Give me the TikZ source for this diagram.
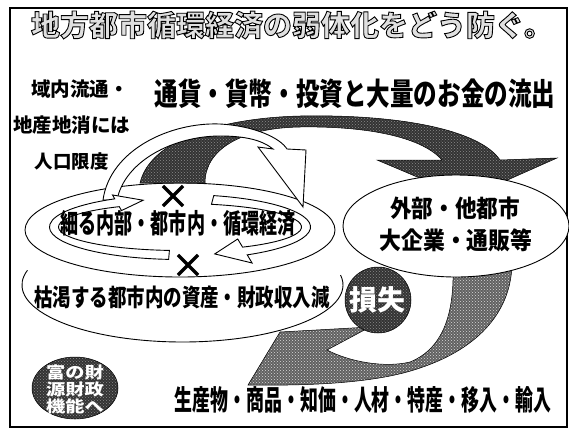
\documentclass[tikz,border=0pt]{standalone}
\usepackage{fontspec}
\newfontfamily\jp{Noto Sans CJK JP}
\usetikzlibrary{shapes.geometric,shapes.misc,patterns}
\tikzset{
  frameline/.style={draw=black,line width=1.2pt},
  outline/.style={draw=black,line width=0.9pt},
  darkfill/.style={preaction={fill=black!80},pattern=crosshatch dots,pattern color=black!45,draw=black,line width=0.5pt},
  greyfill/.style={preaction={fill=black!62},pattern=crosshatch dots,pattern color=black!15,draw=black,line width=0.5pt},
  whiteband/.style={fill=white,draw=black,line width=0.9pt},
  jtext/.style={inner sep=0pt,text=black},
  xmark/.style={cross out,draw=black,line width=3.2pt,minimum size=17pt,inner sep=0pt},
}
\newcommand\hollowtext[1]{\special{pdf:literal direct 2 Tr 0.9 w 0 G}#1\special{pdf:literal direct 0 Tr}}
\begin{document}
\begin{tikzpicture}[x=1pt,y=-1pt]
\useasboundingbox (0,0) rectangle (569,429);
\fill[white] (0,0) rectangle (569,429);
% frame
\draw[frameline] (10,8) rectangle (567,427);

% outer ellipse around the ring
\node[ellipse,outline,minimum width=310pt,minimum height=94pt,inner sep=0pt] (outerring) at (180,230) {};
% lower ellipse (partly hidden)
\draw[outline] (182.5,285) ++(195:160.5 and 57) arc[start angle=195,end angle=-10,x radius=160.5,y radius=57];

% dark upper arc arrow
\path[darkfill] (140,183) .. controls (150,140) and (220,118) .. (300,116)
  .. controls (400,114) and (480,130) .. (500,160) -- (557,158) -- (467,198) -- (377,160) -- (442,160)
  .. controls (420,135) and (360,126) .. (300,127)
  .. controls (240,128) and (205,150) .. (205,183) -- cycle;

% white arc arrow
\filldraw[whiteband] (103,200) .. controls (110,150) and (170,122) .. (220,124)
  .. controls (255,126) and (280,138) .. (287,149) -- (306,150) -- (303,207) -- (258,147) -- (273,149)
  .. controls (262,140) and (245,136) .. (220,136)
  .. controls (175,136) and (125,160) .. (117,200) -- cycle;

% ring of two circular arrows
\begin{scope}[shift={(180,227)}]
 \filldraw[whiteband] (95:130.5 and 32.5) arc[start angle=95,end angle=240,x radius=130.5,y radius=32.5]
   -- (240:135 and 37) -- (253:126 and 28) -- (240:117 and 19) -- (240:121.5 and 23.5)
   arc[start angle=240,end angle=95,x radius=121.5,y radius=23.5] -- cycle;
 \filldraw[whiteband] (285:130.5 and 32.5) arc[start angle=285,end angle=419,x radius=130.5,y radius=32.5]
   -- (419:140 and 42) -- (434:126 and 28) -- (419:112 and 14) -- (419:121.5 and 23.5)
   arc[start angle=419,end angle=285,x radius=121.5,y radius=23.5] -- cycle;
\end{scope}
\node[xmark] (x1) at (173,196) {};
\node[xmark] (x2) at (188,265) {};

% lower grey arrow
\path[greyfill] (453,262) -- (453,280) .. controls (452,320) and (440,350) .. (410,362)
  .. controls (385,368) and (350,362) .. (327,350) -- (370,327) -- (280,332) -- (248,385)
  .. controls (320,386) and (380,382) .. (420,368)
  .. controls (480,348) and (512,310) .. (512,262) -- cycle;

% external ellipse
\node[ellipse,whiteband,minimum width=226pt,minimum height=102pt,inner sep=0pt] (ext) at (456,226) {};

% loss circle
\node[circle,darkfill,minimum size=66pt,inner sep=0pt] (loss) at (378,300) {};
% fund oval
\node[ellipse,darkfill,minimum width=86pt,minimum height=62pt,inner sep=0pt] (fund) at (75,388) {};

% title (outlined letters)
\node[jtext,text=black!12,font=\jp\bfseries\fontsize{29}{29}\selectfont] (title) at (292,25) {\hollowtext{地方都市循環経済の弱体化をどう防ぐ。}};

% texts
\node[jtext,font=\jp\bfseries\fontsize{19.5}{19.5}\selectfont] (l1) at (80,89) {域内流通・};
\node[jtext,font=\jp\bfseries\fontsize{19.5}{19.5}\selectfont] (l2) at (71.5,125) {地産地消には};
\node[jtext,font=\jp\bfseries\fontsize{18.5}{18.5}\selectfont] (l3) at (71.5,162) {人口限度};
\node[jtext,font=\jp\bfseries\fontsize{31}{31}\selectfont] (flow) at (355,94) {\scalebox{0.76}[1]{通貨・貨幣・投資と大量のお金の流出}};
\node[jtext,font=\jp\bfseries\fontsize{27}{27}\selectfont] (inner) at (178,223) {\scalebox{0.67}[1]{細る内部・都市内・循環経済}};
\node[jtext,font=\jp\bfseries\fontsize{24}{24}\selectfont] (ext1) at (455,208) {\scalebox{0.9}[1]{外部・他都市}};
\node[jtext,font=\jp\bfseries\fontsize{24}{24}\selectfont] (ext2) at (456,240) {\scalebox{0.91}[1]{大企業・通販等}};
\node[jtext,font=\jp\bfseries\fontsize{24}{24}\selectfont] (drain) at (182,297) {\scalebox{0.77}[1]{枯渇する都市内の資産・財政収入減}};
\node[jtext,text=white,font=\jp\bfseries\fontsize{28}{28}\selectfont] (losstext) at (377,300) {損失};
\node[jtext,font=\jp\bfseries\fontsize{28}{28}\selectfont] (goods) at (363,400) {\scalebox{0.64}[1]{生産物・商品・知価・人材・特産・移入・輸入}};
\node[jtext,text=white,font=\jp\bfseries\fontsize{16}{16}\selectfont] (f1) at (75,372) {\scalebox{1.2}[1]{富の財}};
\node[jtext,text=white,font=\jp\bfseries\fontsize{16}{16}\selectfont] (f2) at (75,389) {\scalebox{1.2}[1]{源財政}};
\node[jtext,text=white,font=\jp\bfseries\fontsize{16}{16}\selectfont] (f3) at (75,406) {\scalebox{1.2}[1]{機能へ}};
\end{tikzpicture}
\end{document}
